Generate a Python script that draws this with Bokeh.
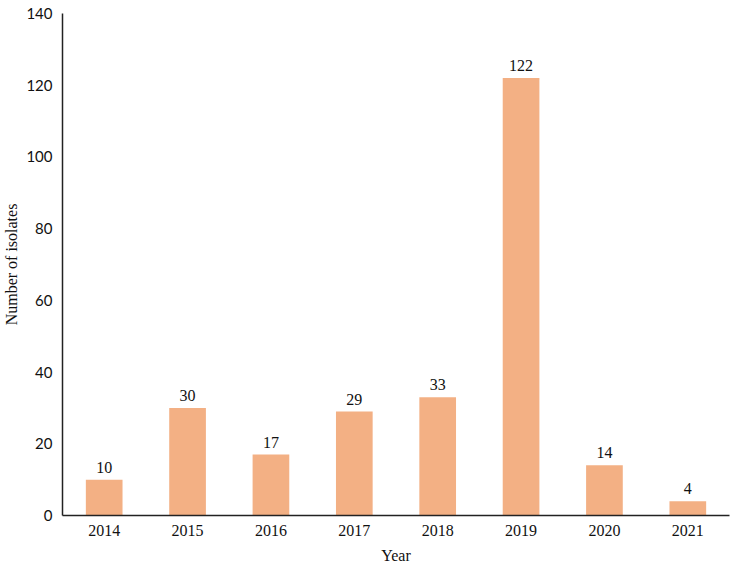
from bokeh.plotting import figure
from bokeh.models import FactorRange, Range1d, ColumnDataSource, FixedTicker
from bokeh.core.properties import value
from bokeh.embed import file_html
from bokeh.resources import INLINE

years = ["2014", "2015", "2016", "2017", "2018", "2019", "2020", "2021"]
isolates = [10, 30, 17, 29, 33, 122, 14, 4]
y_ticks = [0, 20, 40, 60, 80, 100, 120, 140]

src = ColumnDataSource(dict(x=years, y=isolates, lbl=[str(v) for v in isolates]))

p = figure(width=735, height=567, x_range=FactorRange(factors=years, range_padding=0),
           y_range=Range1d(0, 140), output_backend="svg", toolbar_location=None,
           min_border_left=62, min_border_right=6, min_border_top=13, min_border_bottom=52)
p.vbar(x="x", top="y", width=0.44, source=src, fill_color="#F3B084", line_color=None)
p.text(x="x", y="y", text="lbl", source=src, text_align="center", text_baseline="bottom",
       y_offset=-7, text_font=value("Liberation Serif"), text_font_size="16px", text_color="#111111")

p.outline_line_color = None
p.xgrid.grid_line_color = None
p.ygrid.grid_line_color = None

p.yaxis.ticker = FixedTicker(ticks=y_ticks)
p.yaxis.major_tick_line_color = None
p.yaxis.minor_tick_line_color = None
p.yaxis.major_tick_out = 0
p.yaxis.major_tick_in = 0
p.yaxis.major_label_standoff = 10
p.yaxis.major_label_text_font = "Lato"
p.yaxis.major_label_text_font_size = "15px"
p.yaxis.major_label_text_color = "#111111"
p.yaxis.axis_line_color = "#222222"
p.yaxis.axis_line_width = 1.5
p.yaxis.axis_label = "Number of isolates"
p.yaxis.axis_label_text_font = "Liberation Serif"
p.yaxis.axis_label_text_font_style = "normal"
p.yaxis.axis_label_text_font_size = "16px"
p.yaxis.axis_label_text_color = "#111111"
p.yaxis.axis_label_standoff = 3

p.xaxis.major_tick_line_color = None
p.xaxis.major_tick_out = 0
p.xaxis.major_tick_in = 0
p.xaxis.major_label_standoff = 9
p.xaxis.major_label_text_font = "Liberation Serif"
p.xaxis.major_label_text_font_size = "16px"
p.xaxis.major_label_text_color = "#111111"
p.xaxis.axis_line_color = "#222222"
p.xaxis.axis_line_width = 1.5
p.xaxis.axis_label = "Year"
p.xaxis.axis_label_text_font = "Liberation Serif"
p.xaxis.axis_label_text_font_style = "normal"
p.xaxis.axis_label_text_font_size = "16px"
p.xaxis.axis_label_text_color = "#111111"
p.xaxis.axis_label_standoff = 8

open("out.html", "w").write(file_html(p, INLINE))
